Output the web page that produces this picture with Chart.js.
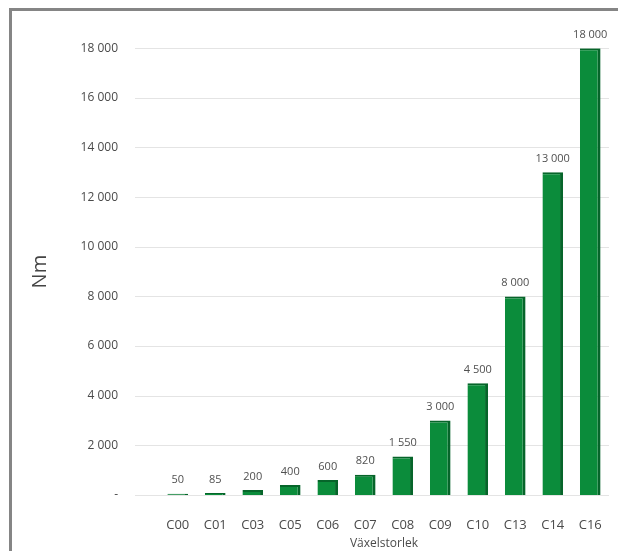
<!DOCTYPE html>
<html>
<head>
<meta charset="utf-8">
<script src="https://cdn.jsdelivr.net/npm/chart.js@4"></script>
<style>
  html, body { margin: 0; padding: 0; background: #fff; }
  #wrap { width: 618px; height: 551px; position: relative; }
</style>
</head>
<body>
<div id="wrap"><canvas id="gearChart" width="618" height="551"></canvas></div>
<script>
const sizes = ["C00", "C01", "C03", "C05", "C06", "C07", "C08", "C09", "C10", "C13", "C14", "C16"];
const torque = [50, 85, 200, 400, 600, 820, 1550, 3000, 4500, 8000, 13000, 18000];
const yTicks = [0, 2000, 4000, 6000, 8000, 10000, 12000, 14000, 16000, 18000];

const textColor = "#4a4a4a";
const fontFamily = "'Open Sans', 'Noto Sans', sans-serif";

function fmt(n) {
  return String(n).replace(/\B(?=(\d{3})+(?!\d))/g, " ");
}

// frame, grid lines and value labels
const decor = {
  id: "decor",
  beforeDatasetsDraw(chart) {
    const { ctx, chartArea } = chart;
    const y = chart.scales.y;
    ctx.save();
    ctx.strokeStyle = "#e4e4e4";
    ctx.lineWidth = 1;
    yTicks.forEach((v) => {
      const py = Math.round(y.getPixelForValue(v)) + 0.5;
      ctx.beginPath();
      ctx.moveTo(135, py);
      ctx.lineTo(chartArea.right, py);
      ctx.stroke();
    });
    ctx.restore();
  },
  afterDatasetsDraw(chart) {
    const { ctx } = chart;
    const meta = chart.getDatasetMeta(0);
    ctx.save();
    ctx.fillStyle = "#505050";
    ctx.font = "11px " + fontFamily;
    ctx.textAlign = "center";
    ctx.textBaseline = "bottom";
    meta.data.forEach((bar, i) => {
      ctx.fillText(fmt(torque[i]), bar.x, bar.y - 8);
    });
    ctx.restore();
  },
  afterDraw(chart) {
    const { ctx } = chart;
    ctx.save();
    ctx.strokeStyle = "#858585";
    ctx.lineWidth = 3;
    ctx.beginPath();
    ctx.moveTo(10.5, 551);
    ctx.lineTo(10.5, 9.5);
    ctx.lineTo(618, 9.5);
    ctx.stroke();
    ctx.restore();
  }
};

new Chart(document.getElementById("gearChart"), {
  type: "bar",
  data: {
    labels: sizes,
    datasets: [{
      data: torque,
      backgroundColor: "#0b8c3b",
      borderColor: "#06652a",
      borderWidth: { top: 2, right: 3, left: 0, bottom: 0 },
      borderSkipped: false,
      barPercentage: 0.55,
      categoryPercentage: 1
    }]
  },
  options: {
    responsive: false,
    animation: false,
    layout: { padding: { top: 48, right: 9, left: 0, bottom: 0 } },
    plugins: {
      legend: { display: false },
      tooltip: { enabled: false }
    },
    scales: {
      x: {
        grid: { display: false },
        border: { display: false },
        ticks: {
          color: textColor,
          padding: 14,
          font: { size: 13, family: fontFamily }
        },
        title: {
          display: true,
          text: "Växelstorlek",
          color: textColor,
          padding: { top: 0, bottom: 0 },
          font: { size: 12, family: fontFamily }
        },
        afterFit(scale) { scale.height = 56; }
      },
      y: {
        min: 0,
        max: 18000,
        grid: { display: false, drawTicks: false },
        border: { display: false },
        afterBuildTicks(scale) {
          scale.ticks = yTicks.map((v) => ({ value: v }));
        },
        ticks: {
          color: textColor,
          padding: 41,
          font: { size: 12, family: fontFamily },
          callback(value) {
            return value === 0 ? "-" : fmt(value);
          }
        },
        title: {
          display: true,
          text: "Nm",
          color: "#444444",
          padding: { top: 28, bottom: 0 },
          font: { size: 20, family: fontFamily }
        },
        afterFit(scale) { scale.width = 159; }
      }
    }
  },
  plugins: [decor]
});
</script>
</body>
</html>
